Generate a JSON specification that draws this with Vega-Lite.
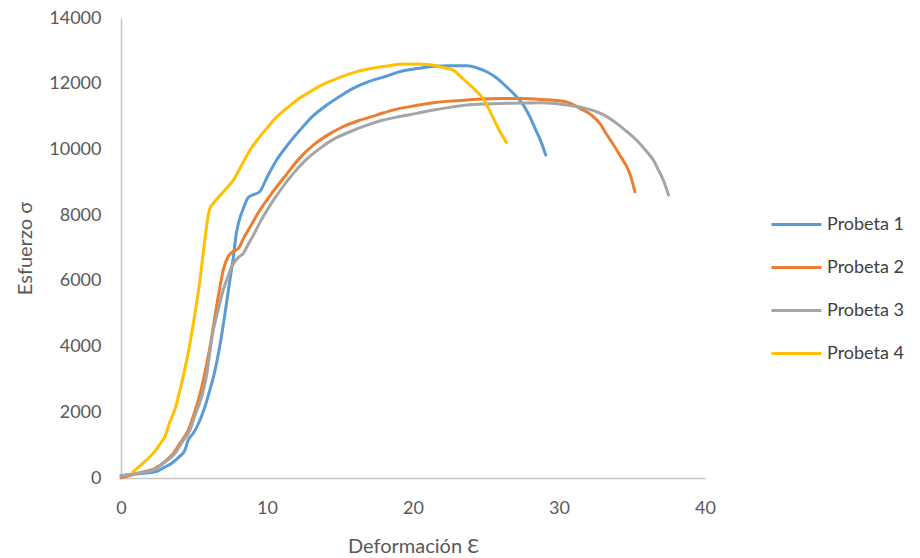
{
  "$schema": "https://vega.github.io/schema/vega-lite/v6.json",
  "width": 584,
  "height": 460,
  "autosize": {"type": "none"},
  "padding": {"left": 121, "top": 18, "right": 215, "bottom": 80},
  "background": "white",
  "config": {
    "font": "Lato",
    "view": {"stroke": null},
    "axis": {
      "grid": false,
      "ticks": false,
      "domainColor": "#C6C6C6",
      "domainWidth": 1.5,
      "labelColor": "#595959",
      "labelFontSize": 18,
      "labelFont": "Lato",
      "labelFlush": false,
      "labelOverlap": false,
      "titleColor": "#595959",
      "titleFontSize": 20,
      "titleFont": "Lato",
      "titleFontWeight": "normal"
    },
    "legend": {
      "labelColor": "#404040",
      "labelFontSize": 18,
      "labelFont": "Lato"
    }
  },
  "data": {
    "values": [
      {"serie": "Probeta 1", "def": 0, "esf": 80},
      {"serie": "Probeta 1", "def": 1.2, "esf": 130},
      {"serie": "Probeta 1", "def": 2.44, "esf": 200},
      {"serie": "Probeta 1", "def": 3.0, "esf": 330},
      {"serie": "Probeta 1", "def": 3.47, "esf": 450},
      {"serie": "Probeta 1", "def": 4.0, "esf": 650},
      {"serie": "Probeta 1", "def": 4.38, "esf": 850},
      {"serie": "Probeta 1", "def": 4.6, "esf": 1150},
      {"serie": "Probeta 1", "def": 4.95, "esf": 1360},
      {"serie": "Probeta 1", "def": 5.4, "esf": 1750},
      {"serie": "Probeta 1", "def": 5.75, "esf": 2170},
      {"serie": "Probeta 1", "def": 6.1, "esf": 2700},
      {"serie": "Probeta 1", "def": 6.4, "esf": 3200},
      {"serie": "Probeta 1", "def": 6.8, "esf": 4100},
      {"serie": "Probeta 1", "def": 7.12, "esf": 5000},
      {"serie": "Probeta 1", "def": 7.45, "esf": 6000},
      {"serie": "Probeta 1", "def": 7.7, "esf": 6735},
      {"serie": "Probeta 1", "def": 7.9, "esf": 7450},
      {"serie": "Probeta 1", "def": 8.1, "esf": 7850},
      {"serie": "Probeta 1", "def": 8.38, "esf": 8200},
      {"serie": "Probeta 1", "def": 8.7, "esf": 8530},
      {"serie": "Probeta 1", "def": 9.06, "esf": 8620},
      {"serie": "Probeta 1", "def": 9.5, "esf": 8712},
      {"serie": "Probeta 1", "def": 10.0, "esf": 9150},
      {"serie": "Probeta 1", "def": 10.66, "esf": 9677},
      {"serie": "Probeta 1", "def": 11.35, "esf": 10100},
      {"serie": "Probeta 1", "def": 12.26, "esf": 10590},
      {"serie": "Probeta 1", "def": 13.1, "esf": 11000},
      {"serie": "Probeta 1", "def": 14.09, "esf": 11350},
      {"serie": "Probeta 1", "def": 15.0, "esf": 11620},
      {"serie": "Probeta 1", "def": 15.9, "esf": 11858},
      {"serie": "Probeta 1", "def": 17.0, "esf": 12070},
      {"serie": "Probeta 1", "def": 18.2, "esf": 12233},
      {"serie": "Probeta 1", "def": 19.2, "esf": 12380},
      {"serie": "Probeta 1", "def": 20.25, "esf": 12460},
      {"serie": "Probeta 1", "def": 21.4, "esf": 12530},
      {"serie": "Probeta 1", "def": 22.5, "esf": 12550},
      {"serie": "Probeta 1", "def": 23.7, "esf": 12546},
      {"serie": "Probeta 1", "def": 24.4, "esf": 12480},
      {"serie": "Probeta 1", "def": 25.05, "esf": 12364},
      {"serie": "Probeta 1", "def": 25.8, "esf": 12150},
      {"serie": "Probeta 1", "def": 26.4, "esf": 11907},
      {"serie": "Probeta 1", "def": 27.0, "esf": 11650},
      {"serie": "Probeta 1", "def": 27.56, "esf": 11350},
      {"serie": "Probeta 1", "def": 28.0, "esf": 11000},
      {"serie": "Probeta 1", "def": 28.36, "esf": 10641},
      {"serie": "Probeta 1", "def": 28.8, "esf": 10200},
      {"serie": "Probeta 1", "def": 29.09, "esf": 9829},

      {"serie": "Probeta 2", "def": 0, "esf": 0},
      {"serie": "Probeta 2", "def": 1.2, "esf": 150},
      {"serie": "Probeta 2", "def": 2.33, "esf": 295},
      {"serie": "Probeta 2", "def": 3.0, "esf": 500},
      {"serie": "Probeta 2", "def": 3.58, "esf": 751},
      {"serie": "Probeta 2", "def": 4.1, "esf": 1100},
      {"serie": "Probeta 2", "def": 4.61, "esf": 1461},
      {"serie": "Probeta 2", "def": 5.0, "esf": 1950},
      {"serie": "Probeta 2", "def": 5.3, "esf": 2374},
      {"serie": "Probeta 2", "def": 5.64, "esf": 2982},
      {"serie": "Probeta 2", "def": 6.1, "esf": 4000},
      {"serie": "Probeta 2", "def": 6.5, "esf": 5100},
      {"serie": "Probeta 2", "def": 6.78, "esf": 5821},
      {"serie": "Probeta 2", "def": 7.0, "esf": 6329},
      {"serie": "Probeta 2", "def": 7.35, "esf": 6750},
      {"serie": "Probeta 2", "def": 7.7, "esf": 6900},
      {"serie": "Probeta 2", "def": 8.04, "esf": 6988},
      {"serie": "Probeta 2", "def": 8.4, "esf": 7300},
      {"serie": "Probeta 2", "def": 8.72, "esf": 7546},
      {"serie": "Probeta 2", "def": 9.52, "esf": 8155},
      {"serie": "Probeta 2", "def": 10.3, "esf": 8650},
      {"serie": "Probeta 2", "def": 11.35, "esf": 9250},
      {"serie": "Probeta 2", "def": 12.2, "esf": 9720},
      {"serie": "Probeta 2", "def": 13.17, "esf": 10130},
      {"serie": "Probeta 2", "def": 14.2, "esf": 10450},
      {"serie": "Probeta 2", "def": 15.2, "esf": 10690},
      {"serie": "Probeta 2", "def": 16.3, "esf": 10880},
      {"serie": "Probeta 2", "def": 17.5, "esf": 11046},
      {"serie": "Probeta 2", "def": 18.8, "esf": 11220},
      {"serie": "Probeta 2", "def": 20.25, "esf": 11340},
      {"serie": "Probeta 2", "def": 21.4, "esf": 11420},
      {"serie": "Probeta 2", "def": 22.5, "esf": 11470},
      {"serie": "Probeta 2", "def": 23.7, "esf": 11503},
      {"serie": "Probeta 2", "def": 25.0, "esf": 11540},
      {"serie": "Probeta 2", "def": 26.0, "esf": 11553},
      {"serie": "Probeta 2", "def": 27.5, "esf": 11550},
      {"serie": "Probeta 2", "def": 28.7, "esf": 11523},
      {"serie": "Probeta 2", "def": 30.07, "esf": 11482},
      {"serie": "Probeta 2", "def": 30.8, "esf": 11400},
      {"serie": "Probeta 2", "def": 31.44, "esf": 11250},
      {"serie": "Probeta 2", "def": 32.2, "esf": 11050},
      {"serie": "Probeta 2", "def": 32.8, "esf": 10793},
      {"serie": "Probeta 2", "def": 33.2, "esf": 10500},
      {"serie": "Probeta 2", "def": 33.6, "esf": 10234},
      {"serie": "Probeta 2", "def": 34.2, "esf": 9800},
      {"serie": "Probeta 2", "def": 34.75, "esf": 9372},
      {"serie": "Probeta 2", "def": 35.0, "esf": 9050},
      {"serie": "Probeta 2", "def": 35.2, "esf": 8712},

      {"serie": "Probeta 3", "def": 0, "esf": 60},
      {"serie": "Probeta 3", "def": 1.2, "esf": 150},
      {"serie": "Probeta 3", "def": 2.33, "esf": 264},
      {"serie": "Probeta 3", "def": 3.0, "esf": 480},
      {"serie": "Probeta 3", "def": 3.7, "esf": 751},
      {"serie": "Probeta 3", "def": 4.2, "esf": 1100},
      {"serie": "Probeta 3", "def": 4.73, "esf": 1461},
      {"serie": "Probeta 3", "def": 5.1, "esf": 1950},
      {"serie": "Probeta 3", "def": 5.53, "esf": 2475},
      {"serie": "Probeta 3", "def": 5.8, "esf": 2982},
      {"serie": "Probeta 3", "def": 6.32, "esf": 4504},
      {"serie": "Probeta 3", "def": 6.65, "esf": 5100},
      {"serie": "Probeta 3", "def": 7.0, "esf": 5721},
      {"serie": "Probeta 3", "def": 7.3, "esf": 6100},
      {"serie": "Probeta 3", "def": 7.58, "esf": 6430},
      {"serie": "Probeta 3", "def": 8.04, "esf": 6715},
      {"serie": "Probeta 3", "def": 8.38, "esf": 6836},
      {"serie": "Probeta 3", "def": 8.7, "esf": 7100},
      {"serie": "Probeta 3", "def": 8.95, "esf": 7293},
      {"serie": "Probeta 3", "def": 9.52, "esf": 7780},
      {"serie": "Probeta 3", "def": 10.1, "esf": 8220},
      {"serie": "Probeta 3", "def": 10.9, "esf": 8750},
      {"serie": "Probeta 3", "def": 11.8, "esf": 9271},
      {"serie": "Probeta 3", "def": 12.7, "esf": 9700},
      {"serie": "Probeta 3", "def": 13.63, "esf": 10032},
      {"serie": "Probeta 3", "def": 14.6, "esf": 10320},
      {"serie": "Probeta 3", "def": 15.68, "esf": 10538},
      {"serie": "Probeta 3", "def": 16.8, "esf": 10730},
      {"serie": "Probeta 3", "def": 17.97, "esf": 10894},
      {"serie": "Probeta 3", "def": 19.1, "esf": 11000},
      {"serie": "Probeta 3", "def": 20.25, "esf": 11097},
      {"serie": "Probeta 3", "def": 21.4, "esf": 11198},
      {"serie": "Probeta 3", "def": 22.5, "esf": 11280},
      {"serie": "Probeta 3", "def": 23.7, "esf": 11350},
      {"serie": "Probeta 3", "def": 25.0, "esf": 11385},
      {"serie": "Probeta 3", "def": 25.96, "esf": 11401},
      {"serie": "Probeta 3", "def": 27.5, "esf": 11410},
      {"serie": "Probeta 3", "def": 28.7, "esf": 11421},
      {"serie": "Probeta 3", "def": 29.9, "esf": 11390},
      {"serie": "Probeta 3", "def": 30.98, "esf": 11320},
      {"serie": "Probeta 3", "def": 31.8, "esf": 11250},
      {"serie": "Probeta 3", "def": 32.58, "esf": 11147},
      {"serie": "Probeta 3", "def": 33.3, "esf": 10990},
      {"serie": "Probeta 3", "def": 33.95, "esf": 10793},
      {"serie": "Probeta 3", "def": 34.6, "esf": 10560},
      {"serie": "Probeta 3", "def": 35.3, "esf": 10285},
      {"serie": "Probeta 3", "def": 35.9, "esf": 9990},
      {"serie": "Probeta 3", "def": 36.46, "esf": 9677},
      {"serie": "Probeta 3", "def": 36.8, "esf": 9380},
      {"serie": "Probeta 3", "def": 37.14, "esf": 9068},
      {"serie": "Probeta 3", "def": 37.5, "esf": 8612},

      {"serie": "Probeta 4", "def": 0.82, "esf": 183},
      {"serie": "Probeta 4", "def": 1.5, "esf": 450},
      {"serie": "Probeta 4", "def": 2.2, "esf": 750},
      {"serie": "Probeta 4", "def": 2.79, "esf": 1105},
      {"serie": "Probeta 4", "def": 3.0, "esf": 1250},
      {"serie": "Probeta 4", "def": 3.3, "esf": 1650},
      {"serie": "Probeta 4", "def": 3.7, "esf": 2100},
      {"serie": "Probeta 4", "def": 4.16, "esf": 2900},
      {"serie": "Probeta 4", "def": 4.6, "esf": 3800},
      {"serie": "Probeta 4", "def": 5.07, "esf": 5021},
      {"serie": "Probeta 4", "def": 5.4, "esf": 6000},
      {"serie": "Probeta 4", "def": 5.7, "esf": 7100},
      {"serie": "Probeta 4", "def": 6.05, "esf": 8155},
      {"serie": "Probeta 4", "def": 6.32, "esf": 8360},
      {"serie": "Probeta 4", "def": 6.7, "esf": 8550},
      {"serie": "Probeta 4", "def": 7.12, "esf": 8764},
      {"serie": "Probeta 4", "def": 7.7, "esf": 9068},
      {"serie": "Probeta 4", "def": 8.3, "esf": 9550},
      {"serie": "Probeta 4", "def": 8.84, "esf": 9981},
      {"serie": "Probeta 4", "def": 9.4, "esf": 10330},
      {"serie": "Probeta 4", "def": 9.98, "esf": 10640},
      {"serie": "Probeta 4", "def": 10.6, "esf": 10960},
      {"serie": "Probeta 4", "def": 11.35, "esf": 11250},
      {"serie": "Probeta 4", "def": 12.1, "esf": 11520},
      {"serie": "Probeta 4", "def": 12.95, "esf": 11755},
      {"serie": "Probeta 4", "def": 13.7, "esf": 11950},
      {"serie": "Probeta 4", "def": 14.54, "esf": 12111},
      {"serie": "Probeta 4", "def": 15.4, "esf": 12260},
      {"serie": "Probeta 4", "def": 16.37, "esf": 12395},
      {"serie": "Probeta 4", "def": 17.3, "esf": 12480},
      {"serie": "Probeta 4", "def": 18.2, "esf": 12537},
      {"serie": "Probeta 4", "def": 19.1, "esf": 12590},
      {"serie": "Probeta 4", "def": 20.25, "esf": 12600},
      {"serie": "Probeta 4", "def": 21.16, "esf": 12580},
      {"serie": "Probeta 4", "def": 22.0, "esf": 12500},
      {"serie": "Probeta 4", "def": 22.76, "esf": 12415},
      {"serie": "Probeta 4", "def": 23.3, "esf": 12200},
      {"serie": "Probeta 4", "def": 23.9, "esf": 11958},
      {"serie": "Probeta 4", "def": 24.4, "esf": 11750},
      {"serie": "Probeta 4", "def": 24.8, "esf": 11553},
      {"serie": "Probeta 4", "def": 25.4, "esf": 11046},
      {"serie": "Probeta 4", "def": 25.96, "esf": 10538},
      {"serie": "Probeta 4", "def": 26.4, "esf": 10214}
    ]
  },
  "mark": {"type": "line", "strokeWidth": 3, "interpolate": "monotone", "strokeCap": "round", "strokeJoin": "round"},
  "encoding": {
    "x": {
      "field": "def",
      "type": "quantitative",
      "scale": {"domain": [0, 40], "nice": false},
      "axis": {
        "values": [0, 10, 20, 30, 40],
        "format": "d",
        "labelPadding": 21,
        "title": "Deformación Ɛ",
        "titlePadding": 19
      }
    },
    "y": {
      "field": "esf",
      "type": "quantitative",
      "scale": {"domain": [0, 14000], "nice": false},
      "axis": {
        "values": [0, 2000, 4000, 6000, 8000, 10000, 12000, 14000],
        "format": "d",
        "labelPadding": 20,
        "title": "Esfuerzo σ",
        "titlePadding": 13
      }
    },
    "color": {
      "field": "serie",
      "type": "nominal",
      "scale": {
        "domain": ["Probeta 1", "Probeta 2", "Probeta 3", "Probeta 4"],
        "range": ["#5B9BD5", "#ED7D31", "#A5A5A5", "#FFC000"]
      },
      "legend": {
        "title": null,
        "orient": "none",
        "legendX": 649,
        "legendY": 180,
        "symbolType": "stroke",
        "symbolSize": 2500,
        "symbolStrokeWidth": 3,
        "labelOffset": 4,
        "rowPadding": 7
      }
    },
    "order": {"field": "def", "type": "quantitative"}
  }
}
